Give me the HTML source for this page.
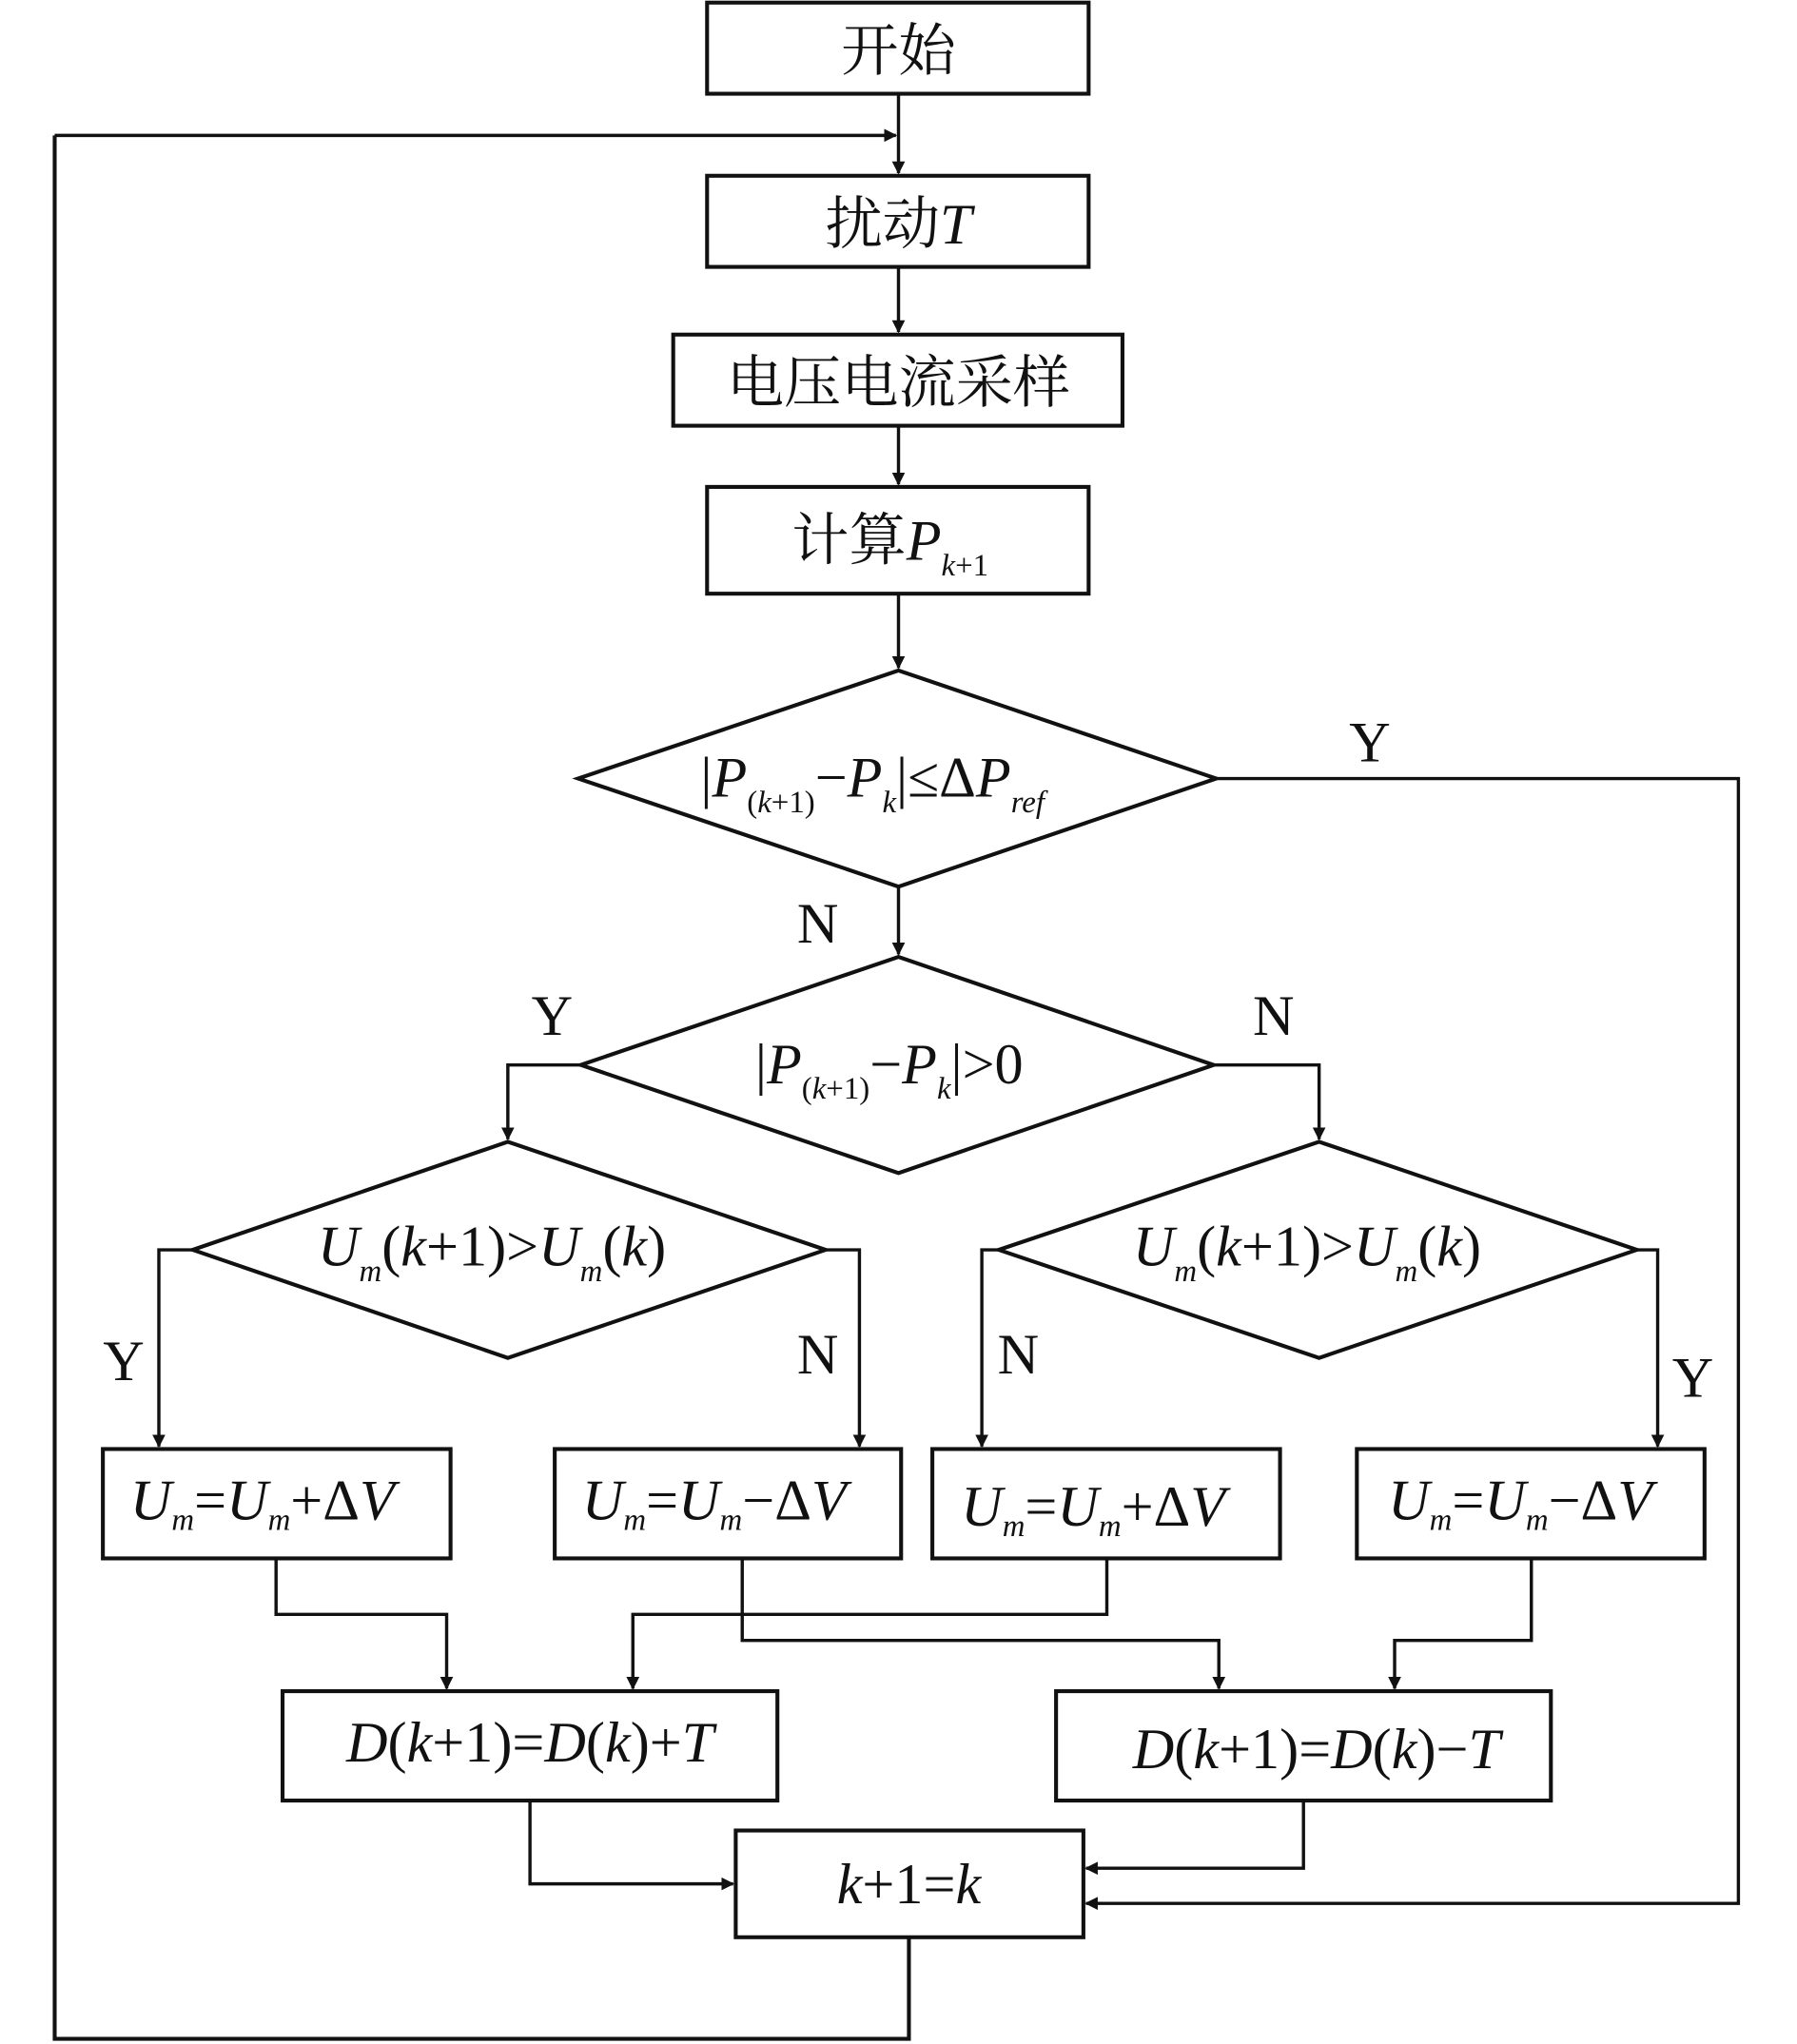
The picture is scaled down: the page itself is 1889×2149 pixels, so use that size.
<!DOCTYPE html>
<html><head><meta charset="utf-8"><style>
html,body{margin:0;padding:0;background:#fff;}
svg{display:block;}
text{font-family:"Liberation Serif","Noto Serif CJK SC",serif;fill:#111;}
.cn{font-family:"Noto Serif CJK SC","Liberation Serif",serif;}
.i{font-style:italic;}
</style></head><body>
<svg width="1889" height="2149" viewBox="0 0 1380 1570" preserveAspectRatio="none" xmlns="http://www.w3.org/2000/svg">
<defs><marker id="a" markerWidth="10" markerHeight="10" refX="9" refY="5" orient="auto" markerUnits="userSpaceOnUse"><path d="M0,0 L10,5 L0,10 z" fill="#111"/></marker></defs>
<g fill="none" stroke="#111" stroke-width="3">
<rect x="543" y="2" width="293" height="70"/>
<rect x="543" y="135" width="293" height="70"/>
<rect x="517" y="257" width="345" height="70"/>
<rect x="543" y="374" width="293" height="82"/>
<polygon points="690,515 934,598 690,681 444,598"/>
<polygon points="690,735 932,818 690,901 446,818"/>
<polygon points="390,877 634,960 390,1043 148,960"/>
<polygon points="1013,877 1257,960 1013,1043 767,960"/>
<rect x="79" y="1113" width="267" height="84"/>
<rect x="426" y="1113" width="266" height="84"/>
<rect x="716" y="1113" width="267" height="84"/>
<rect x="1042" y="1113" width="267" height="84"/>
<rect x="217" y="1299" width="380" height="84"/>
<rect x="811" y="1299" width="380" height="84"/>
<rect x="565" y="1406" width="267" height="82"/>
</g>
<g fill="none" stroke="#111" stroke-width="2.5" marker-end="url(#a)">
<path d="M690,72 V133"/>
<path d="M42,104 H688"/>
<path d="M690,205 V255"/>
<path d="M690,327 V372"/>
<path d="M690,456 V513"/>
<path d="M690,681 V733"/>
<path d="M934,598 H1335 V1462 H834"/>
<path d="M446,818 H390 V875"/>
<path d="M932,818 H1013 V875"/>
<path d="M148,960 H122 V1111"/>
<path d="M634,960 H660 V1111"/>
<path d="M767,960 H754 V1111"/>
<path d="M1257,960 H1273 V1111"/>
<path d="M212,1197 V1240 H343 V1297"/>
<path d="M570,1197 V1260 H936 V1297"/>
<path d="M850,1197 V1240 H486 V1297"/>
<path d="M1176,1197 V1260 H1071 V1297"/>
<path d="M407,1383 V1447 H563"/>
<path d="M1001,1383 V1435 H834"/>
</g>
<path d="M698,1488 V1566 H42 V104" fill="none" stroke="#111" stroke-width="3"/>
<g font-size="44">
<text x="690" y="54" text-anchor="middle" class="cn">开始</text>
<text x="690" y="187" text-anchor="middle"><tspan class="cn">扰动</tspan><tspan class="i">T</tspan></text>
<text x="690" y="309" text-anchor="middle" class="cn">电压电流采样</text>
<text x="608" y="430"><tspan class="cn">计算</tspan><tspan class="i">P</tspan><tspan font-size="24" class="i" dy="12">k</tspan><tspan font-size="24">+1</tspan></text>
<text x="538" y="612">|<tspan class="i">P</tspan><tspan font-size="24" dy="12">(<tspan class="i">k</tspan>+1)</tspan><tspan dy="-12">−</tspan><tspan class="i">P</tspan><tspan font-size="24" class="i" dy="12">k</tspan><tspan dy="-12">|≤Δ</tspan><tspan class="i">P</tspan><tspan font-size="24" class="i" dy="12">ref</tspan></text>
<text x="580" y="832">|<tspan class="i">P</tspan><tspan font-size="24" dy="12">(<tspan class="i">k</tspan>+1)</tspan><tspan dy="-12">−</tspan><tspan class="i">P</tspan><tspan font-size="24" class="i" dy="12">k</tspan><tspan dy="-12">|&gt;0</tspan></text>
<text x="244" y="972"><tspan class="i">U</tspan><tspan font-size="24" class="i" dy="12">m</tspan><tspan dy="-12">(<tspan class="i">k</tspan>+1)&gt;</tspan><tspan class="i">U</tspan><tspan font-size="24" class="i" dy="12">m</tspan><tspan dy="-12">(<tspan class="i">k</tspan>)</tspan></text>
<text x="870" y="972"><tspan class="i">U</tspan><tspan font-size="24" class="i" dy="12">m</tspan><tspan dy="-12">(<tspan class="i">k</tspan>+1)&gt;</tspan><tspan class="i">U</tspan><tspan font-size="24" class="i" dy="12">m</tspan><tspan dy="-12">(<tspan class="i">k</tspan>)</tspan></text>
<text x="100" y="1167"><tspan class="i">U</tspan><tspan font-size="24" class="i" dy="8">m</tspan><tspan dy="-8">=</tspan><tspan class="i">U</tspan><tspan font-size="24" class="i" dy="8">m</tspan><tspan dy="-8">+Δ</tspan><tspan class="i">V</tspan></text>
<text x="447" y="1167"><tspan class="i">U</tspan><tspan font-size="24" class="i" dy="8">m</tspan><tspan dy="-8">=</tspan><tspan class="i">U</tspan><tspan font-size="24" class="i" dy="8">m</tspan><tspan dy="-8">−Δ</tspan><tspan class="i">V</tspan></text>
<text x="738" y="1172"><tspan class="i">U</tspan><tspan font-size="24" class="i" dy="8">m</tspan><tspan dy="-8">=</tspan><tspan class="i">U</tspan><tspan font-size="24" class="i" dy="8">m</tspan><tspan dy="-8">+Δ</tspan><tspan class="i">V</tspan></text>
<text x="1066" y="1167"><tspan class="i">U</tspan><tspan font-size="24" class="i" dy="8">m</tspan><tspan dy="-8">=</tspan><tspan class="i">U</tspan><tspan font-size="24" class="i" dy="8">m</tspan><tspan dy="-8">−Δ</tspan><tspan class="i">V</tspan></text>
<text x="407" y="1353" text-anchor="middle"><tspan class="i">D</tspan>(<tspan class="i">k</tspan>+1)=<tspan class="i">D</tspan>(<tspan class="i">k</tspan>)+<tspan class="i">T</tspan></text>
<text x="1011" y="1358" text-anchor="middle"><tspan class="i">D</tspan>(<tspan class="i">k</tspan>+1)=<tspan class="i">D</tspan>(<tspan class="i">k</tspan>)−<tspan class="i">T</tspan></text>
<text x="698" y="1462" text-anchor="middle"><tspan class="i">k</tspan>+1=<tspan class="i">k</tspan></text>
<text x="1052" y="585" text-anchor="middle">Y</text>
<text x="628" y="724" text-anchor="middle">N</text>
<text x="424" y="795" text-anchor="middle">Y</text>
<text x="978" y="795" text-anchor="middle">N</text>
<text x="95" y="1060" text-anchor="middle">Y</text>
<text x="628" y="1055" text-anchor="middle">N</text>
<text x="782" y="1055" text-anchor="middle">N</text>
<text x="1300" y="1073" text-anchor="middle">Y</text>
</g>
</svg>
</body></html>
